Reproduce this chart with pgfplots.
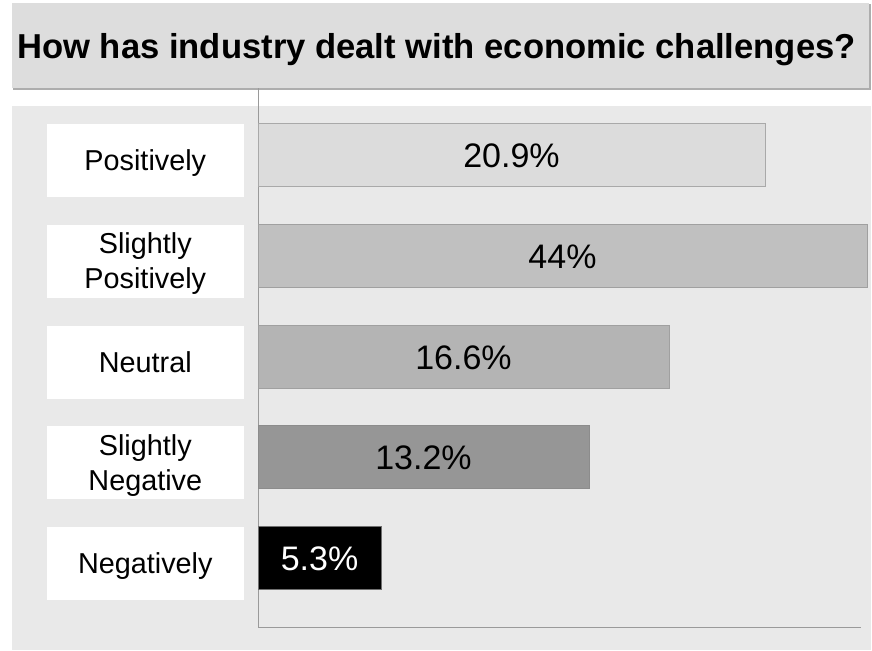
\documentclass[border=0pt]{standalone}
\usepackage{pgfplots}
\pgfplotsset{compat=1.18}
\usepackage{fontspec}
\setmainfont{Liberation Sans}
\definecolor{plotbg}{HTML}{E9E9E9}
\definecolor{titlebg}{HTML}{DDDDDD}
\definecolor{titleshadow}{HTML}{ADADAD}
\definecolor{axisgray}{HTML}{9A9A9A}
\definecolor{barA}{HTML}{DCDCDC}
\definecolor{barB}{HTML}{C0C0C0}
\definecolor{barC}{HTML}{B4B4B4}
\definecolor{barD}{HTML}{969696}
\definecolor{barE}{HTML}{000000}
\definecolor{edgeA}{HTML}{A9A9A9}
\definecolor{edgeB}{HTML}{A0A0A0}
\definecolor{edgeC}{HTML}{A0A0A0}
\definecolor{edgeD}{HTML}{8C8C8C}
\definecolor{edgeE}{HTML}{707070}
\begin{document}
\begin{tikzpicture}[x=1pt,y=1pt]
% canvas 872 x 650 (1px = 1pt), y downward negative
\path (0,0) rectangle (872,-650);
\fill[plotbg] (12,-106) rectangle (871,-650);
\fill[titleshadow] (13,-4) rectangle (870.5,-90);
\fill[titlebg] (12,-3) rectangle (869,-88.5);
\node[font=\fontsize{34.6}{40}\selectfont\bfseries] at (436.5,-50) {How has industry dealt with economic challenges?};
\begin{axis}[
  at={(258,-627)}, anchor=south west,
  scale only axis, width=603pt, height=539pt,
  xmin=0, xmax=603, ymin=0, ymax=539,
  clip=false,
  axis lines*=left,
  axis line style={draw=axisgray, line width=1pt},
  xtick=\empty,
  ytick={69.5,170,270.5,371.5,472},
  yticklabels={Negatively,{Slightly\\Negative},Neutral,{Slightly\\Positively},Positively},
  major tick length=0pt,
  yticklabel style={fill=white, minimum width=197pt, minimum height=73pt, inner sep=0pt,
    align=center, anchor=east, xshift=-14pt, yshift=-5.5pt, text depth=0pt,
    font=\fontsize{28.8}{35}\selectfont},
  xbar, bar width=63, bar shift=0pt,
]
\addplot[xbar, bar shift=0pt, fill=barA, draw=edgeA, line width=1pt] coordinates {(507,472)};
\addplot[xbar, bar shift=0pt, fill=barB, draw=edgeB, line width=1pt] coordinates {(609,371.5)};
\addplot[xbar, bar shift=0pt, fill=barC, draw=edgeC, line width=1pt] coordinates {(411,270.5)};
\addplot[xbar, bar shift=0pt, fill=barD, draw=edgeD, line width=1pt] coordinates {(331,170)};
\addplot[xbar, bar shift=0pt, fill=barE, draw=edgeE, line width=1pt] coordinates {(123,69.5)};
% value labels at bar centres (half of each bar length)
\addplot[draw=none, mark=none, nodes near coords, point meta=explicit symbolic,
  every node near coord/.style={anchor=center, text depth=0pt, yshift=-1pt, font=\fontsize{34}{38}\selectfont, text=black}]
  coordinates {(253.5,472) [20.9\%] (304.5,371.5) [44\%] (205.5,270.5) [16.6\%] (165.5,170) [13.2\%]};
\addplot[draw=none, mark=none, nodes near coords, point meta=explicit symbolic,
  every node near coord/.style={anchor=center, text depth=0pt, yshift=-1pt, font=\fontsize{34}{38}\selectfont, text=white}]
  coordinates {(61.5,69.5) [5.3\%]};
\end{axis}
\end{tikzpicture}
\end{document}
